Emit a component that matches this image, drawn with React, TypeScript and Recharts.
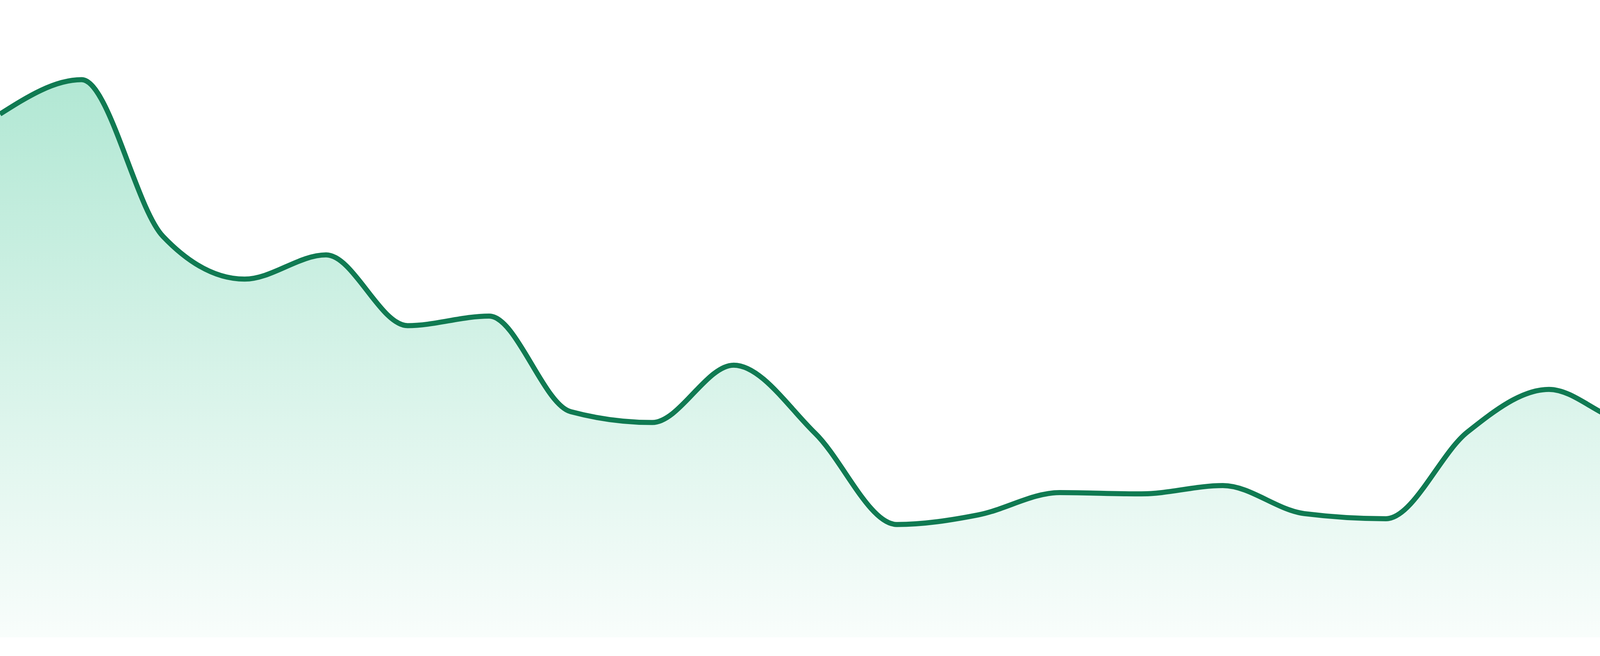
import { AreaChart, Area, XAxis, YAxis } from "recharts";

// 24 evenly spaced samples
const days = [
  "D1", "D2", "D3", "D4", "D5", "D6", "D7", "D8", "D9", "D10", "D11", "D12",
  "D13", "D14", "D15", "D16", "D17", "D18", "D19", "D20", "D21", "D22", "D23", "D24",
];

const values = [
  82.1, 87.5, 62.9, 56.2, 60.0, 48.9, 50.4, 35.4, 33.7, 42.7, 32.0, 17.7,
  19.2, 22.7, 22.5, 23.8, 19.4, 18.6, 32.2, 38.9, 33.8, 35.7, 28.7, 33.2,
];

const yDomain = [0, 100];

export default function App() {
  const chartData = days.map((day, index) => ({
    name: day,
    value: values[index],
  }));

  return (
    <div style={{ position: "absolute", left: 0, top: 0, width: 4800, height: 1680, background: "#fff" }}>
      <AreaChart
        width={4800}
        height={1680}
        data={chartData}
        margin={{ top: 0, right: 0, bottom: 48, left: 0 }}
      >
        <defs>
          <linearGradient id="areaFill" x1="0" y1="0" x2="0" y2="1">
            <stop offset="0%" stopColor="#28be87" stopOpacity={0.36} />
            <stop offset="100%" stopColor="#28be87" stopOpacity={0.03} />
          </linearGradient>
        </defs>
        <XAxis dataKey="name" hide />
        <YAxis domain={yDomain} hide />
        <Area
          type="monotone"
          dataKey="value"
          stroke="#107a52"
          strokeWidth={13}
          fill="url(#areaFill)"
          fillOpacity={1}
          isAnimationActive={false}
          dot={false}
          activeDot={false}
        />
      </AreaChart>
    </div>
  );
}
